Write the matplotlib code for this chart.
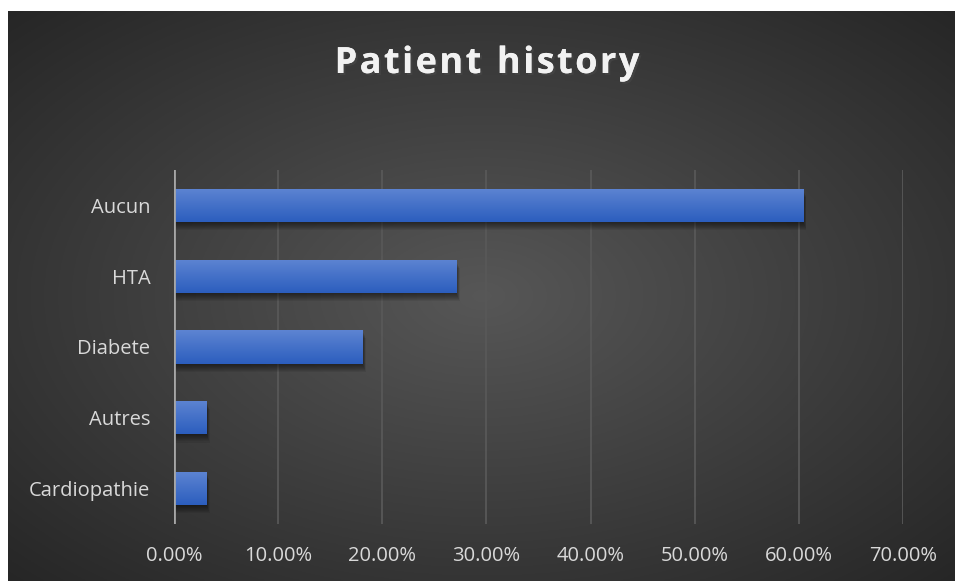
import numpy as np
import matplotlib.pyplot as plt
from matplotlib.ticker import FuncFormatter
import matplotlib.patheffects as pe

# --- data ---
categories = ["Cardiopathie", "Autres", "Diabete", "HTA", "Aucun"]
shares = [3.1, 3.1, 18.1, 27.1, 60.4]  # percent
x_ticks = [0, 10, 20, 30, 40, 50, 60, 70]
title = "Patient history"

fig = plt.figure(figsize=(9.55, 5.81), dpi=100)
fig.patch.set_facecolor("white")

# dark radial background (chart area has a small white margin top/left)
bg = fig.add_axes([8 / 955, 0, 947 / 955, 570 / 581])
bg.set_axis_off()
yy, xx = np.mgrid[-1:1:300j, -1:1:500j]
r = np.sqrt(xx ** 2 + yy ** 2) / np.sqrt(2)
shade = 0.34 - 0.19 * r
bg.imshow(np.dstack([shade] * 3), aspect="auto", extent=[0, 1, 0, 1])
bg.set_xlim(0, 1)
bg.set_ylim(0, 1)

ax = fig.add_axes([174 / 955, 57 / 581, 729 / 955, 354 / 581])
ax.patch.set_alpha(0)
ypos = np.arange(len(categories))
bars = ax.barh(ypos, shares, height=0.47, color="#4472c4", zorder=3)

# vertical gradient + soft shadow under each bar
grad = np.linspace(0, 1, 64).reshape(-1, 1)
top = np.array([0x5d, 0x84, 0xd2]) / 255
bot = np.array([0x2c, 0x5e, 0xbe]) / 255
img = top + (bot - top) * grad[..., None]
px = 0.47 / 33  # one pixel in data units (y)
for b in bars:
    x0, y0, w, h = b.get_x(), b.get_y(), b.get_width(), b.get_height()
    for k in range(1, 9):
        ax.add_patch(plt.Rectangle((x0, y0 - k * px), w + 0.04 * k, h,
                                   color="black", alpha=0.07, zorder=2, lw=0))
    im = ax.imshow(img, extent=[x0, x0 + w, y0, y0 + h], aspect="auto",
                   origin="upper", zorder=4)
    im.set_clip_path(b)

ax.set_xlim(0, 70)
ax.set_ylim(-0.5, len(categories) - 0.5)
ax.set_xticks(x_ticks)
ax.xaxis.set_major_formatter(FuncFormatter(lambda v, p: f"{v:.2f}%"))
ax.set_yticks(ypos)
ax.set_yticklabels(categories)
ax.grid(axis="x", color="#585858", linewidth=1.3, zorder=1)
ax.axvline(0, color="#a6a6a6", linewidth=2, zorder=5)
for s in ax.spines.values():
    s.set_visible(False)
ax.tick_params(length=0, labelsize=14.5, labelcolor="#d9d9d9")
ax.tick_params(axis="x", pad=16)
ax.tick_params(axis="y", pad=17)
for lab in ax.get_xticklabels() + ax.get_yticklabels():
    lab.set_fontfamily("Open Sans")

# title with wide letter spacing: place characters one by one
renderer = fig.canvas.get_renderer()
shadow = [pe.withSimplePatchShadow(offset=(1.5, -1.5), alpha=0.6), pe.Normal()]
props = dict(fontsize=26, fontweight="bold", color="#f2f2f2",
             fontfamily="Open Sans", va="baseline", ha="left")
spacing = 2.4  # extra pixels between letters
widths = []
for ch in title:
    t = fig.text(0, 0, ch if ch != " " else "n", **props)
    widths.append(t.get_window_extent(renderer).width * (0.45 if ch == " " else 1))
    t.remove()
total = sum(widths) + spacing * (len(title) - 1)
x = 487 - total / 2
base_y = (581 - 73) / 581
for ch, w in zip(title, widths):
    if ch != " ":
        fig.text(x / 955, base_y, ch, path_effects=shadow, **props)
    x += w + spacing

fig.savefig("out.png", dpi=100)
